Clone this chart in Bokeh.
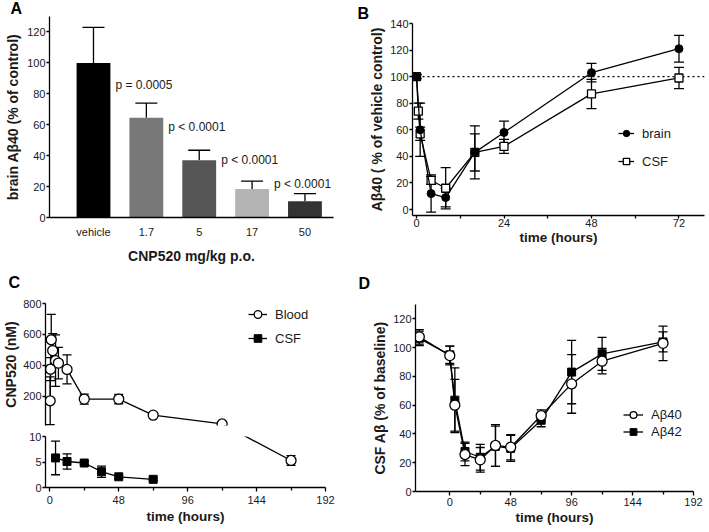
import numpy as np
from bokeh.plotting import figure
from bokeh.models import (ColumnDataSource, Whisker, TeeHead, Span,
                          Legend, LegendItem, FixedTicker)
from bokeh.embed import file_html
from bokeh.resources import INLINE
from bokeh.core.properties import value

FONT = "Liberation Sans"
INK = "#1a1a1a"

# ---------------- data ----------------
# Panel A
doses = ["vehicle", "1.7", "5", "17", "50"]
brain_ab40 = [100, 64.5, 37, 18.5, 10.5]
brain_ab40_sd = [23, 9.5, 6.5, 5, 5]
p_values = ["p = 0.0005", "p < 0.0001", "p < 0.0001", "p < 0.0001"]
bar_colors = ["#000000", "#787878", "#555555", "#b4b4b4", "#333333"]
p_label_lift = [-18, -23, -21, -10]   # style: pixel lift of each p label above its error cap

# Panel B
b_brain_t = [0, 1, 4, 8, 16, 24, 48, 72]
b_brain = [100, 60, 12, 9, 43, 58, 103, 121]
b_brain_sd = [1.5, 20, 14, 7, 20, 8.5, 7, 10]
b_csf_t = [0, 0.5, 1, 4, 8, 16, 24, 48, 72]
b_csf = [100, 74, 57, 22, 16, 43, 47.5, 87, 99]
b_csf_sd = [1.5, 6, 5, 3, 15.5, 14, 5.3, 11, 8]
control_level = 100

# Panel C
c_blood_t = [0.25, 0.5, 1, 2, 4, 6, 12, 24, 48, 72, 120, 168]
c_blood = [170, 375, 565, 495, 430, 414, 373, 181, 181, 77, 20, 5.3]
c_blood_sd = [155, 75, 165, 110, 167, 102, 94, 32, 30, 7, 3, 0.95]
c_csf_t = [4, 12, 24, 36, 48, 72]
c_csf = [5.8, 5.1, 4.8, 3.1, 2.1, 1.6]
c_csf_sd = [3.3, 1.5, 0.3, 1.1, 0.35, 0.25]

# Panel D
d_t = [-24, 0, 4, 12, 24, 36, 48, 72, 96, 120, 168]
d_ab40 = [107.5, 94.5, 60, 25.7, 22, 32, 30.8, 52.8, 74.8, 90.6, 103]
d_ab40_sd = [5, 6.5, 18, 7.7, 8.6, 14.5, 8.8, 4, 20.4, 8.8, 12]
d_ab42 = [106.5, 95, 63.5, 27.8, 23.8, 31.5, 30, 49.5, 83, 95.7, 104]
d_ab42_sd = [5, 6, 22.5, 6.5, 9, 14, 9, 4.5, 22, 11.5, 7]


# ---------------- helpers ----------------
def mk_fig(left_px, top_px, width, height, x_range, y_range, left, right, top, bottom,
           x_axis=True):
    p = figure(width=width, height=height, x_range=x_range, y_range=y_range,
               output_backend="svg", toolbar_location=None,
               min_border_left=left, min_border_right=right,
               min_border_top=top, min_border_bottom=bottom,
               x_axis_location="below" if x_axis else None)
    p.styles = {"position": "absolute", "left": f"{left_px}px", "top": f"{top_px}px"}
    p.outline_line_color = None
    p.grid.visible = False
    p.background_fill_alpha = 0
    p.border_fill_alpha = 0
    for ax in p.axis:
        ax.axis_line_width = 1.3
        ax.axis_line_color = "black"
        ax.major_tick_line_width = 1.3
        ax.major_tick_line_color = "black"
        ax.major_tick_out = 3
        ax.major_tick_in = 0
        ax.minor_tick_line_color = None
        ax.major_label_text_font = FONT
        ax.major_label_text_font_size = "11px"
        ax.major_label_text_color = INK
        ax.major_label_standoff = 1
        ax.axis_label_text_font = FONT
        ax.axis_label_text_font_size = "13.5px"
        ax.axis_label_text_font_style = "bold"
        ax.axis_label_text_color = INK
        ax.axis_label_standoff = 2
    return p


def letter(p, text, offset, standoff):
    p.title.text = text
    p.title.align = "left"
    p.title.offset = offset
    p.title.standoff = standoff
    p.title.text_font = FONT
    p.title.text_font_size = "16px"
    p.title.text_font_style = "bold"
    p.title.text_color = "black"


def ylab(p, text, standoff, size="14px"):
    p.yaxis.axis_label = text
    p.yaxis.axis_label_standoff = standoff
    p.yaxis.axis_label_text_font_size = size


def minor_x(p):
    p.xaxis.minor_tick_line_color = "black"
    p.xaxis.minor_tick_line_width = 1.3
    p.xaxis.minor_tick_out = 3
    p.xaxis.minor_tick_in = 0


def errbars(p, t, v, sd, head=9, upper_only=False):
    up = [a + b for a, b in zip(v, sd)]
    lo = list(v) if upper_only else [a - b for a, b in zip(v, sd)]
    src = ColumnDataSource(dict(base=list(t), upper=up, lower=lo))
    w = Whisker(source=src, base="base", upper="upper", lower="lower",
                dimension="height", line_color="black", line_width=1.3,
                level="underlay",
                upper_head=TeeHead(size=head, line_width=1.3, line_color="black"),
                lower_head=None if upper_only else TeeHead(size=head, line_width=1.3, line_color="black"))
    p.add_layout(w)


def legend(p, items, x, y, glyph_w, item_h, spacing):
    leg = Legend(items=[LegendItem(label=l, renderers=r) for l, r in items],
                 location=(x, y), orientation="vertical",
                 glyph_width=glyph_w, glyph_height=item_h, label_height=item_h,
                 spacing=spacing, padding=0, margin=0, label_standoff=8,
                 border_line_color=None, background_fill_alpha=0,
                 label_text_font=FONT, label_text_font_size="13px",
                 label_text_color=INK)
    p.add_layout(leg)


# ---------------- Panel A ----------------
BAR_W = 0.64
xa = list(range(len(doses)))
pa = mk_fig(0, -8, 354, 274, (-0.832, 4.54), (0, 130), left=49, right=21, top=24, bottom=49)
pa.vbar(x=xa, top=brain_ab40, width=BAR_W, fill_color=bar_colors, line_color=None)
errbars(pa, xa, brain_ab40, brain_ab40_sd, head=22, upper_only=True)
pa.yaxis.ticker = FixedTicker(ticks=[0, 20, 40, 60, 80, 100, 120])
pa.xaxis.ticker = FixedTicker(ticks=xa)
pa.xaxis.major_label_overrides = {i: d for i, d in enumerate(doses)}
pa.xaxis.major_tick_out = 0
pa.xaxis.major_label_standoff = 8
pa.xaxis.axis_label = "CNP520 mg/kg p.o."
pa.xaxis.axis_label_text_font_size = "14px"
pa.xaxis.axis_label_standoff = 7
pv_src = ColumnDataSource(dict(
    x=[i - 1 + BAR_W / 2 for i in xa[1:]],
    y=[v + s for v, s in zip(brain_ab40[1:], brain_ab40_sd[1:])],
    text=p_values, dy=p_label_lift))
pa.text(x="x", y="y", text="text", y_offset="dy", x_offset=5, source=pv_src,
        text_font=value(FONT), text_font_size="12px", text_color=INK,
        text_align="left", text_baseline="middle")
ylab(pa, "brain A\u03b240 (% of control)", 3)
letter(pa, "A", -39, 0)

# ---------------- Panel B ----------------
pb = mk_fig(350, -4, 358, 251, (-1.1, 79), (-4.5, 140), left=62, right=4, top=27, bottom=32)
errbars(pb, b_csf_t, b_csf, b_csf_sd, head=10)
errbars(pb, b_brain_t, b_brain, b_brain_sd, head=10)
pb.add_layout(Span(location=control_level, dimension="width", line_color="black",
                   line_width=1.3, line_dash="2 3", level="underlay"))
lc = pb.line(b_csf_t, b_csf, line_color="black", line_width=1.3)
sc = pb.scatter(b_csf_t, b_csf, marker="square", size=8, fill_color="white",
                line_color="black", line_width=1.3)
lb = pb.line(b_brain_t, b_brain, line_color="black", line_width=1.3)
sb = pb.scatter(b_brain_t, b_brain, marker="circle", size=8, fill_color="black",
                line_color="black")
pb.xaxis.ticker = FixedTicker(ticks=[0, 24, 48, 72], minor_ticks=[12, 36, 60])
minor_x(pb)
pb.xaxis.major_label_standoff = 0
pb.xaxis.axis_label_standoff = 0
pb.xaxis.axis_label = "time (hours)"
pb.yaxis.ticker = FixedTicker(ticks=[0, 20, 40, 60, 80, 100, 120, 140])
legend(pb, [("brain", [lb, sb]), ("CSF", [lc, sc])], 206, 44, 16, 20, 8)
ylab(pb, "A\u03b240 ( % of vehicle control)", 2)
letter(pb, "B", -55, 4)

# ---------------- Panel C (broken y axis) ----------------
C_TOP_LO, C_TOP_HI = 10, 800
C_BOT_LO, C_BOT_HI = 0, 10
TOP_FH, BOT_FH, GAP = 122, 51, 11
k_top = TOP_FH / (C_TOP_HI - C_TOP_LO)
k_bot = BOT_FH / (C_BOT_HI - C_BOT_LO)


def px_above_bottom(v):
    if v >= C_BOT_HI:
        return BOT_FH + GAP + (v - C_TOP_LO) * k_top
    return (v - C_BOT_LO) * k_bot


def to_top(v):
    return C_TOP_LO + (px_above_bottom(v) - BOT_FH - GAP) / k_top


def to_bot(v):
    return C_BOT_LO + px_above_bottom(v) / k_bot


def split(t, v, sd, in_top):
    sel = [i for i, a in enumerate(v) if (a >= C_BOT_HI) == in_top]
    return [t[i] for i in sel], [v[i] for i in sel], [sd[i] for i in sel]


XC = (-3, 192)
pct = mk_fig(0, 254, 354, 176, XC, (C_TOP_LO, C_TOP_HI), left=45, right=29, top=49, bottom=5,
             x_axis=False)
pcb = mk_fig(0, 430, 354, 96, XC, (C_BOT_LO, C_BOT_HI), left=45, right=29, top=6, bottom=39)

# top segment
tt, tv, ts = split(c_blood_t, c_blood, c_blood_sd, True)
errbars(pct, tt, tv, ts, head=9)
l_blood = pct.line(c_blood_t, [to_top(v) for v in c_blood], line_color="black", line_width=1.3)
l_csf = pct.line(c_csf_t, [to_top(v) for v in c_csf], line_color="black", line_width=1.3)
s_csf = pct.scatter(c_csf_t, [to_top(v) for v in c_csf], marker="square", size=8,
                    fill_color="black", line_color="black")
s_blood = pct.scatter(tt, tv, marker="circle", size=10, fill_color="white",
                      line_color="black", line_width=1.3)
pct.yaxis.ticker = FixedTicker(ticks=[200, 400, 600, 800])
legend(pct, [("Blood", [l_blood, s_blood]), ("CSF", [l_csf, s_csf])], 203, 77, 19, 20, 4)
ylab(pct, "CNP520 (nM)", 1)
letter(pct, "C", -37, 26)

# bottom segment
bt, bv, bs = split(c_blood_t, c_blood, c_blood_sd, False)
errbars(pcb, bt, bv, bs, head=9)
errbars(pcb, c_csf_t, c_csf, c_csf_sd, head=9)
pcb.line(c_blood_t, [to_bot(v) for v in c_blood], line_color="black", line_width=1.3)
pcb.line(c_csf_t, c_csf, line_color="black", line_width=1.3)
pcb.scatter(c_csf_t, c_csf, marker="square", size=8, fill_color="black", line_color="black")
pcb.scatter(bt, bv, marker="circle", size=10, fill_color="white", line_color="black",
            line_width=1.3)
pcb.yaxis.ticker = FixedTicker(ticks=[0, 5, 10])
pcb.xaxis.ticker = FixedTicker(ticks=[0, 48, 96, 144, 192], minor_ticks=[24, 72, 120, 168])
minor_x(pcb)
pcb.xaxis.major_tick_out = 4
pcb.xaxis.major_label_standoff = 4
pcb.xaxis.axis_label_standoff = 2
pcb.xaxis.axis_label = "time (hours)"

# ---------------- Panel D ----------------
pd_ = mk_fig(350, 255, 358, 272, (-27, 192), (0, 130), left=65, right=15, top=49, bottom=36)
errbars(pd_, d_t, d_ab42, d_ab42_sd, head=9)
errbars(pd_, d_t, d_ab40, d_ab40_sd, head=9)
l42 = pd_.line(d_t, d_ab42, line_color="black", line_width=1.3)
s42 = pd_.scatter(d_t, d_ab42, marker="square", size=8, fill_color="black", line_color="black")
l40 = pd_.line(d_t, d_ab40, line_color="black", line_width=1.3)
s40 = pd_.scatter(d_t, d_ab40, marker="circle", size=10, fill_color="white",
                  line_color="black", line_width=1.3)
pd_.yaxis.ticker = FixedTicker(ticks=[0, 20, 40, 60, 80, 100, 120])
pd_.xaxis.ticker = FixedTicker(ticks=[0, 48, 96, 144, 192], minor_ticks=[24, 72, 120, 168])
minor_x(pd_)
pd_.xaxis.major_tick_out = 4
pd_.xaxis.major_label_standoff = 2
pd_.xaxis.axis_label_standoff = 1
pd_.xaxis.axis_label = "time (hours)"
legend(pd_, [("A\u03b240", [l40, s40]), ("A\u03b242", [l42, s42])], 208, 51, 20, 17, 0)
ylab(pd_, "CSF A\u03b2 (% of baseline)", 2)
letter(pd_, "D", -57, 26)

open("out.html", "w").write(file_html([pa, pb, pct, pcb, pd_], INLINE))
